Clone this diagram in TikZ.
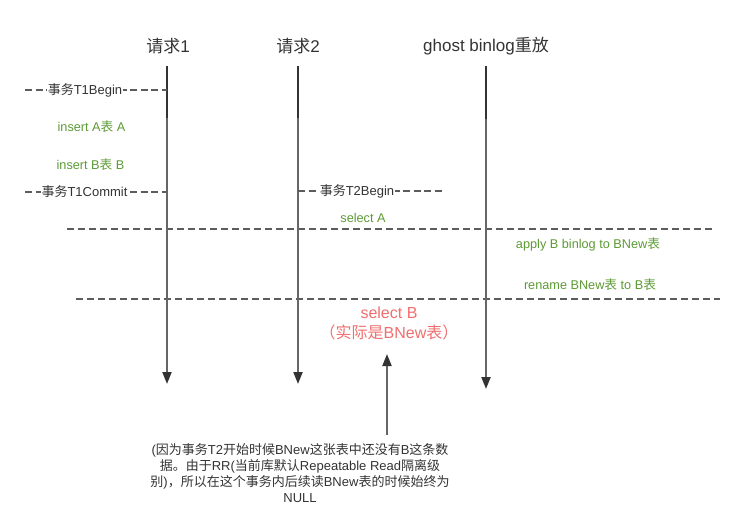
\documentclass[tikz,border=0pt]{standalone}
\usepackage{fontspec}
\setmainfont{Liberation Sans}
\newfontfamily\cjk{Noto Sans CJK SC}
\usetikzlibrary{arrows.meta}
\definecolor{lgreen}{HTML}{5C9A34}
\definecolor{lred}{HTML}{F06E6E}
\definecolor{ldark}{HTML}{333333}
\definecolor{lgray}{HTML}{666666}
\tikzset{
  lifeline/.style={line width=2pt, lgray, -{Triangle[length=12pt,width=9pt,color=ldark,fill=ldark]}},
  lifetop/.style={line width=2pt, ldark},
  sep/.style={line width=1.4pt, lgray!90!black, dash pattern=on 7pt off 4pt},
  tick/.style={line width=1.2pt, lgray!90!black, dash pattern=on 7pt off 3.5pt},
  head/.style={font=\fontsize{17}{19}\selectfont, text=ldark, inner sep=1pt},
  lbl/.style={font=\fontsize{13}{14}\selectfont, text=ldark, fill=white, inner sep=1pt},
  glbl/.style={font=\fontsize{12.7}{14}\selectfont, text=lgreen, inner sep=1pt},
  rlbl/.style={font=\fontsize{16}{20}\selectfont, text=lred, align=center, inner sep=1pt},
  note/.style={font=\fontsize{13}{16}\selectfont, text=ldark, align=center, inner sep=1pt}
}
\begin{document}
\begin{tikzpicture}[x=1pt,y=-1pt]
\useasboundingbox (0,0) rectangle (745,528);
% headings
\node[head] (h1) at (168,46) {{\cjk 请求}1};
\node[head] (h2) at (298,46) {{\cjk 请求}2};
\node[head] (h3) at (486,46) {ghost binlog{\cjk 重放}};
% lifeline coordinates
\coordinate (l1t) at (167,66); \coordinate (l1m) at (167,118); \coordinate (l1b) at (167,384);
\coordinate (l2t) at (298,66); \coordinate (l2m) at (298,118); \coordinate (l2b) at (298,384);
\coordinate (l3t) at (486,66); \coordinate (l3m) at (486,119); \coordinate (l3b) at (486,389);
% separators
\coordinate (s1a) at (67,229); \coordinate (s1b) at (712,229);
\coordinate (s2a) at (76,299); \coordinate (s2b) at (720,299);
\draw[sep] (s1a) -- (s1b);
\draw[sep] (s2a) -- (s2b);
\draw[lifeline] (l1t) -- (l1b);
\draw[lifeline] (l2t) -- (l2b);
\draw[lifeline] (l3t) -- (l3b);
\draw[lifetop] (l1t) -- (l1m);
\draw[lifetop] (l2t) -- (l2m);
\draw[lifetop] (l3t) -- (l3m);
% transaction markers
\coordinate (t1a) at (25,90); \coordinate (t1b) at (167,90);
\draw[tick] (t1a) -- (t1b);
\node[lbl] (t1begin) at (85,90) {{\cjk 事务}T1Begin};
\coordinate (t1c) at (25,192); \coordinate (t1d) at (167,192);
\draw[tick] (t1c) -- (t1d);
\node[lbl] (t1commit) at (84.5,192) {{\cjk 事务}T1Commit};
\coordinate (t2a) at (298,191); \coordinate (t2b) at (442,191);
\draw[tick] (t2a) -- (t2b);
\node[lbl] (t2begin) at (357,191) {{\cjk 事务}T2Begin};
% green labels
\node[glbl] (insA) at (91.5,127) {insert A{\cjk 表} A};
\node[glbl] (insB) at (90.5,165) {insert B{\cjk 表} B};
\node[glbl] (selA) at (363,218) {select A};
\node[glbl] (apply) at (588,244) {apply B binlog to BNew{\cjk 表}};
\node[glbl] (rename) at (590,285) {rename BNew{\cjk 表} to B{\cjk 表}};
% red label
\node[rlbl] (selB) at (389,323) {select B\\{\cjk （实际是}BNew{\cjk 表）}};
% note
\node[note] (noteN) at (300,473.5) {({\cjk 因为事务}T2{\cjk 开始时候}BNew{\cjk 这张表中还没有}B{\cjk 这条数}\\{\cjk 据。由于}RR({\cjk 当前库默认}Repeatable Read{\cjk 隔离级}\\{\cjk 别}){\cjk ，所以在这个事务内后续读}BNew{\cjk 表的时候始终为}\\NULL};
\coordinate (upb) at (387,435); \coordinate (upt) at (387,354);
\draw[lifeline] (upb) -- (upt);
\end{tikzpicture}
\end{document}
